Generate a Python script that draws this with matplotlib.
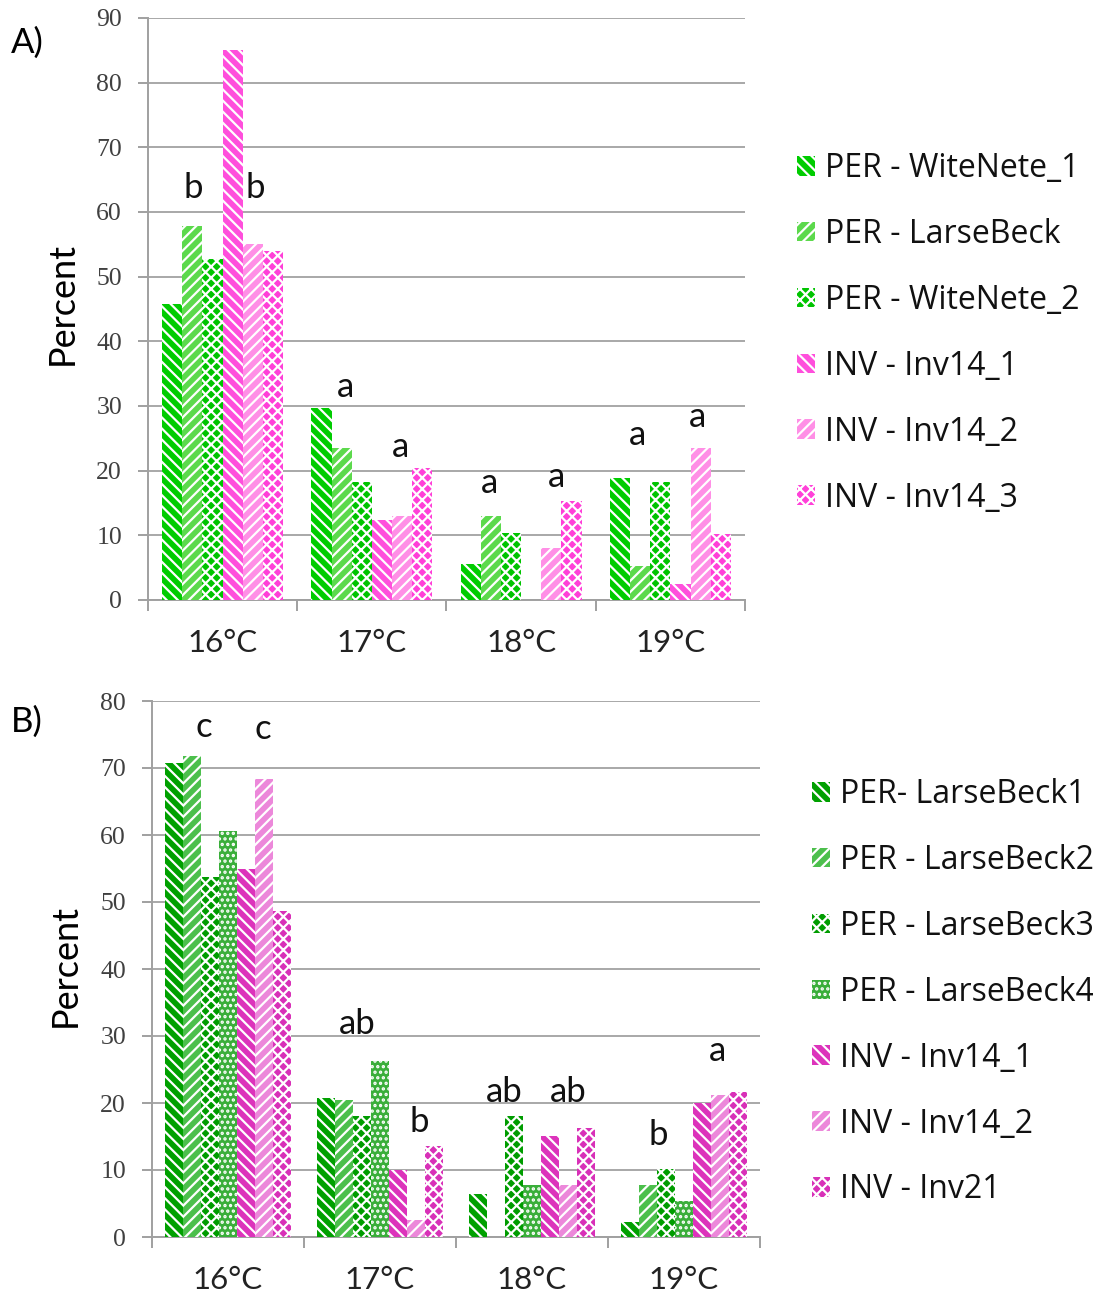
import matplotlib
matplotlib.use("Agg")
import matplotlib.pyplot as plt
from matplotlib.patches import Patch
import numpy as np

plt.rcParams['hatch.linewidth'] = 1.6

categories = ["16°C", "17°C", "18°C", "19°C"]

# Panel A
series_a = ["PER - WiteNete_1", "PER - LarseBeck", "PER - WiteNete_2",
            "INV - Inv14_1", "INV - Inv14_2", "INV - Inv14_3"]
a_witenete1 = [45.8, 29.7, 5.5, 18.8]
a_larsebeck = [57.9, 23.5, 13.0, 5.3]
a_witenete2 = [52.7, 18.3, 10.4, 18.3]
a_inv14_1 = [85.0, 12.4, 0.0, 2.5]
a_inv14_2 = [55.1, 13.0, 8.0, 23.5]
a_inv14_3 = [53.9, 20.4, 15.3, 10.2]
values_a = [a_witenete1, a_larsebeck, a_witenete2, a_inv14_1, a_inv14_2, a_inv14_3]
colors_a = ["#00cc00", "#5cd94c", "#00c400", "#ff4fdc", "#ff8fe6", "#ff40d8"]
hatches_a = ["\\\\\\", "///", "xxx", "\\\\\\", "///", "xxx"]
letters_a = ["b", "b", "a", "a", "a", "a", "a", "a"]
letters_a_x = [-0.20, 0.22, 0.82, 1.19, 1.79, 2.24, 2.78, 3.18]
letters_a_y = [62.1, 62.1, 31.4, 22.1, 16.6, 17.5, 24.0, 26.8]

# Panel B
series_b = ["PER- LarseBeck1", "PER - LarseBeck2", "PER - LarseBeck3",
            "PER - LarseBeck4", "INV - Inv14_1", "INV - Inv14_2", "INV - Inv21"]
b_lb1 = [70.8, 20.8, 6.4, 2.3]
b_lb2 = [71.8, 20.4, 0.0, 7.8]
b_lb3 = [53.7, 18.0, 18.0, 10.2]
b_lb4 = [60.6, 26.3, 7.8, 5.4]
b_inv14_1 = [55.0, 10.0, 15.1, 20.0]
b_inv14_2 = [68.4, 2.6, 7.8, 21.2]
b_inv21 = [48.6, 13.6, 16.3, 21.7]
values_b = [b_lb1, b_lb2, b_lb3, b_lb4, b_inv14_1, b_inv14_2, b_inv21]
colors_b = ["#00a000", "#4cbf4c", "#009c00", "#3aae3a", "#dc33bb", "#ec88da", "#d830b8"]
hatches_b = ["\\\\\\", "///", "xxx", "...", "\\\\\\", "///", "xxx"]
letters_b = ["c", "c", "ab", "b", "ab", "ab", "b", "a"]
letters_b_x = [-0.16, 0.23, 0.85, 1.26, 1.82, 2.24, 2.83, 3.22]
letters_b_y = [74.6, 74.3, 30.3, 15.7, 20.2, 20.2, 13.7, 26.3]

W, H = 1093, 1294
fig = plt.figure(figsize=(W / 100, H / 100), dpi=100)

sans = ["Lato", "DejaVu Sans"]
legsans = ["Open Sans", "DejaVu Sans"]


def draw_panel(ax, values, colors, hatches, labels, group_w, ymax, letters, lx, ly):
    n = len(values)
    bw = group_w / n
    x = np.arange(len(categories))
    for i, (vals, c, h) in enumerate(zip(values, colors, hatches)):
        ax.bar(x - group_w / 2 + bw * (i + 0.5), vals, width=bw, color=c,
               edgecolor="white", linewidth=0, hatch=h, zorder=3, label=labels[i])
    ax.set_xlim(-0.5, len(categories) - 0.5)
    ax.set_ylim(0, ymax)
    ax.set_yticks(np.arange(0, ymax + 1, 10))
    ax.yaxis.grid(True, color="#a8a8a8", linewidth=1.4, zorder=0)
    ax.set_axisbelow(True)
    for s in ["top", "right"]:
        ax.spines[s].set_visible(False)
    for s in ["left", "bottom"]:
        ax.spines[s].set_color("#a0a0a0")
        ax.spines[s].set_linewidth(1.4)
    ax.set_xticks(np.arange(-0.5, len(categories), 1.0))
    ax.set_xticklabels([])
    ax.set_xticks(x, minor=True)
    ax.set_xticklabels(categories, minor=True, family=sans, size=22.5)
    ax.tick_params(axis="x", which="minor", length=0, pad=21, colors="#222222")
    ax.tick_params(axis="x", which="major", length=8, width=1.4, color="#a0a0a0")
    ax.tick_params(axis="y", length=7, width=1.4, color="#a0a0a0", pad=11.7)
    for t in ax.get_yticklabels():
        t.set_fontfamily("Liberation Serif")
        t.set_fontsize(18.5)
        t.set_color("#404040")
    for t, xx, yy in zip(letters, lx, ly):
        ax.text(xx, yy, t, ha="center", va="baseline", fontsize=25,
                family=sans, color="#111111", zorder=5)


# Panel A
axA = fig.add_axes([148 / W, 1 - 600 / H, (745 - 148) / W, (600 - 18) / H])
draw_panel(axA, values_a, colors_a, hatches_a, series_a, 0.81, 90,
           letters_a, letters_a_x, letters_a_y)
axA.set_ylabel("Percent", family=sans, fontsize=26)
axA.yaxis.set_label_coords(-0.1156, 0.51)

# Panel B
axB = fig.add_axes([152 / W, 1 - 1237 / H, (760 - 152) / W, (1237 - 701) / H])
draw_panel(axB, values_b, colors_b, hatches_b, series_b, 0.83, 80,
           letters_b, letters_b_x, letters_b_y)
axB.set_ylabel("Percent", family=sans, fontsize=26)
axB.yaxis.set_label_coords(-0.115, 0.506)

fig.text(11 / W, 1 - 43 / H, "A)", family=sans, fontsize=25, va="center")
fig.text(11 / W, 1 - 722 / H, "B)", family=sans, fontsize=25, va="center")


def make_legend(ax, colors, hatches, labels, x, y):
    handles = [Patch(facecolor=c, edgecolor="white", linewidth=0, hatch=h)
               for c, h in zip(colors, hatches)]
    leg = ax.legend(handles, labels, loc="upper left", bbox_to_anchor=(x, y),
                    bbox_transform=fig.transFigure, frameon=False,
                    prop=dict(family=legsans, size=23), handlelength=0.57,
                    handleheight=0.57, handletextpad=0.3, labelspacing=1.03,
                    borderpad=0, borderaxespad=0)
    for t in leg.get_texts():
        t.set_color("#111111")
    return leg


make_legend(axA, colors_a, hatches_a, series_a, 797 / W, 1 - 152 / H)
make_legend(axB, colors_b, hatches_b, series_b, 812 / W, 1 - 778 / H)

fig.savefig("out.png", dpi=100)
